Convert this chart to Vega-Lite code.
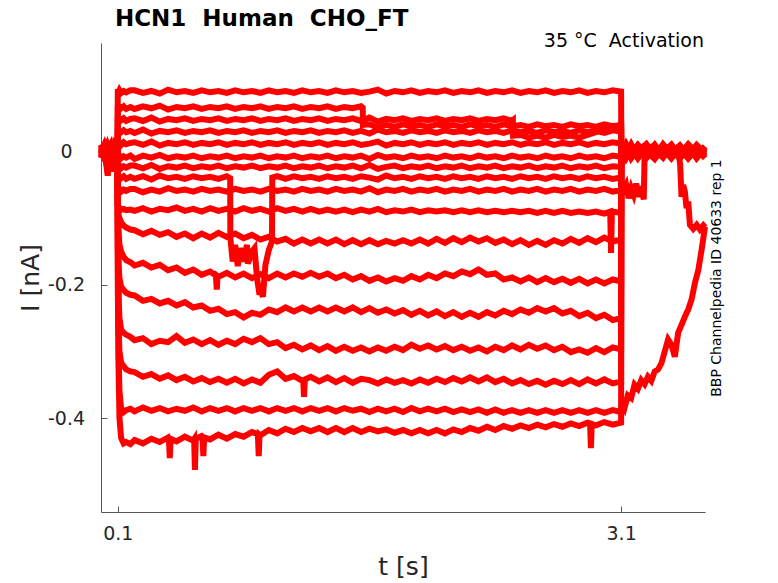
{
  "$schema": "https://vega.github.io/schema/vega-lite/v6.json",
  "width": 604,
  "height": 469,
  "autosize": {"type": "none"},
  "padding": {"left": 101, "top": 43, "right": 73, "bottom": 71},
  "background": "white",
  "data": {
    "values": [
      {"t":0,"a":0.006,"b":-0.004,"c":0.009,"d":-0.008,"e":0.002,"f":0.011,"g":-0.006,"h":0.004,"i":-0.010,"j":0.007,"k":-0.002,"l":0.005,"m":-0.009,"n":0.010,"o":-0.003,"p":0.001,"q":-0.007},
      {"t":0.02,"a":-0.005,"b":0.008,"c":-0.003,"d":0.006,"e":-0.010,"f":0.001,"g":0.009,"h":-0.007,"i":0.004,"j":-0.002,"k":0.010,"l":-0.008,"m":0.003,"n":-0.005,"o":0.007,"p":-0.009,"q":0.002},
      {"t":0.04,"a":0.003,"b":-0.009,"c":0.007,"d":-0.002,"e":0.008,"f":-0.006,"g":0.002,"h":0.010,"i":-0.004,"j":0.005,"k":-0.007,"l":0.001,"m":0.009,"n":-0.003,"o":-0.010,"p":0.006,"q":-0.036},
      {"t":0.06,"a":-0.008,"b":0.002,"c":-0.006,"d":0.010,"e":-0.001,"f":0.007,"g":-0.009,"h":-0.003,"i":0.008,"j":-0.010,"k":0.004,"l":0.009,"m":-0.005,"n":0.002,"o":0.005,"p":-0.030,"q":0.004},
      {"t":0.08,"a":0.009,"b":-0.001,"c":0.004,"d":-0.007,"e":0.005,"f":-0.010,"g":0.006,"h":0.001,"i":-0.006,"j":0.008,"k":-0.004,"l":-0.003,"m":0.006,"n":-0.008,"o":0.002,"p":0.007,"q":-0.005},
      {"t":0.099,"a":-0.002,"b":0.005,"c":-0.008,"d":0.003,"e":-0.006,"f":0.004,"g":-0.003,"h":-0.009,"i":0.006,"j":0.001,"k":0.008,"l":-0.006,"m":-0.002,"n":0.009,"o":-0.007,"p":-0.004,"q":0.007},
      {"t":0.1,"a":0.094,"b":0.069,"c":0.051,"d":0.033,"e":0.015,"f":-0.005,"g":-0.020,"h":-0.036,"i":-0.055,"j":-0.080,"k":-0.070,"l":-0.070,"m":-0.080,"n":-0.100,"o":-0.120,"p":-0.150,"q":-0.200},
      {"t":0.105,"a":0.089,"b":0.064,"c":0.046,"d":0.028,"e":0.011,"f":-0.009,"g":-0.024,"h":-0.041,"i":-0.059,"j":-0.083,"k":-0.095,"l":-0.120,"m":-0.170,"n":-0.220,"o":-0.260,"p":-0.300,"q":-0.330},
      {"t":0.11,"a":0.092,"b":0.067,"c":0.049,"d":0.031,"e":0.013,"f":-0.006,"g":-0.021,"h":-0.038,"i":-0.056,"j":-0.085,"k":-0.100,"l":-0.140,"m":-0.190,"n":-0.250,"o":-0.300,"p":-0.360,"q":-0.400},
      {"t":0.12,"a":0.088,"b":0.065,"c":0.047,"d":0.029,"e":0.010,"f":-0.010,"g":-0.025,"h":-0.040,"i":-0.060,"j":-0.087,"k":-0.106,"l":-0.150,"m":-0.203,"n":-0.267,"o":-0.317,"p":-0.385,"q":-0.430},
      {"t":0.135,"a":0.091,"b":0.068,"c":0.050,"d":0.032,"e":0.014,"f":-0.007,"g":-0.022,"h":-0.037,"i":-0.057,"j":-0.086,"k":-0.111,"l":-0.158,"m":-0.208,"n":-0.272,"o":-0.322,"p":-0.391,"q":-0.438},
      {"t":0.15,"a":0.089,"b":0.064,"c":0.046,"d":0.029,"e":0.011,"f":-0.009,"g":-0.024,"h":-0.041,"i":-0.059,"j":-0.088,"k":-0.114,"l":-0.163,"m":-0.212,"n":-0.275,"o":-0.327,"p":-0.388,"q":-0.436},
      {"t":0.175,"a":0.092,"b":0.067,"c":0.049,"d":0.031,"e":0.013,"f":-0.006,"g":-0.021,"h":-0.038,"i":-0.056,"j":-0.087,"k":-0.117,"l":-0.166,"m":-0.215,"n":-0.278,"o":-0.330,"p":-0.386,"q":-0.439},
      {"t":0.2,"a":0.092,"b":0.064,"c":0.050,"d":0.028,"e":0.014,"f":-0.011,"g":-0.021,"h":-0.041,"i":-0.056,"j":-0.089,"k":-0.118,"l":-0.171,"m":-0.216,"n":-0.283,"o":-0.331,"p":-0.390,"q":-0.433},
      {"t":0.25,"a":0.088,"b":0.068,"c":0.046,"d":0.033,"e":0.010,"f":-0.006,"g":-0.025,"h":-0.037,"i":-0.061,"j":-0.085,"k":-0.124,"l":-0.167,"m":-0.224,"n":-0.280,"o":-0.338,"p":-0.384,"q":-0.438},
      {"t":0.3,"a":0.091,"b":0.065,"c":0.051,"d":0.027,"e":0.015,"f":-0.009,"g":-0.020,"h":-0.042,"i":-0.057,"j":-0.090,"k":-0.119,"l":-0.174,"m":-0.221,"n":-0.289,"o":-0.334,"p":-0.389,"q":-0.431},
      {"t":0.35,"a":0.087,"b":0.069,"c":0.045,"d":0.031,"e":0.009,"f":-0.005,"g":-0.026,"h":-0.036,"i":-0.060,"j":-0.086,"k":-0.125,"l":-0.170,"m":-0.228,"n":-0.284,"o":-0.341,"p":-0.385,"q":-0.436},
      {"t":0.4,"a":0.093,"b":0.063,"c":0.049,"d":0.029,"e":0.013,"f":-0.010,"g":-0.022,"h":-0.040,"i":-0.055,"j":-0.088,"k":-0.121,"l":-0.178,"m":-0.224,"n":-0.286,"o":-0.336,"p":-0.390,"q":-0.429},
      {"t":0.45,"a":0.089,"b":0.067,"c":0.047,"d":0.032,"e":0.011,"f":-0.007,"g":-0.024,"h":-0.038,"i":-0.059,"j":-0.084,"k":-0.128,"l":-0.174,"m":-0.231,"n":-0.277,"o":-0.343,"p":-0.386,"q":-0.435},
      {"t":0.5,"a":0.091,"b":0.065,"c":0.050,"d":0.028,"e":0.014,"f":-0.009,"g":-0.021,"h":-0.041,"i":-0.057,"j":-0.089,"k":-0.123,"l":-0.182,"m":-0.226,"n":-0.287,"o":-0.338,"p":-0.389,"q":-0.428},
      {"t":0.55,"a":0.088,"b":0.068,"c":0.046,"d":0.031,"e":0.010,"f":-0.006,"g":-0.025,"h":-0.037,"i":-0.060,"j":-0.086,"k":-0.130,"l":-0.177,"m":-0.234,"n":-0.282,"o":-0.345,"p":-0.384,"q":-0.434},
      {"t":0.6,"a":0.092,"b":0.064,"c":0.049,"d":0.029,"e":0.013,"f":-0.010,"g":-0.022,"h":-0.040,"i":-0.056,"j":-0.090,"k":-0.123,"l":-0.185,"m":-0.231,"n":-0.289,"o":-0.340,"p":-0.390,"q":-0.427},
      {"t":0.65,"a":0.089,"b":0.067,"c":0.047,"d":0.032,"e":0.011,"f":-0.007,"g":-0.024,"h":-0.038,"i":-0.059,"j":-0.085,"k":-0.129,"l":-0.180,"m":-0.239,"n":-0.283,"o":-0.346,"p":-0.385,"q":-0.432},
      {"t":0.7,"a":0.091,"b":0.065,"c":0.050,"d":0.028,"e":0.014,"f":-0.009,"g":-0.021,"h":-0.041,"i":-0.057,"j":-0.089,"k":-0.122,"l":-0.188,"m":-0.236,"n":-0.290,"o":-0.341,"p":-0.389,"q":-0.425},
      {"t":0.75,"a":0.088,"b":0.068,"c":0.046,"d":0.031,"e":0.010,"f":-0.006,"g":-0.025,"h":-0.037,"i":-0.060,"j":-0.086,"k":-0.128,"l":-0.182,"m":-0.244,"n":-0.284,"o":-0.347,"p":-0.385,"q":-0.431},
      {"t":0.8,"a":0.092,"b":0.064,"c":0.049,"d":0.029,"e":0.013,"f":-0.010,"g":-0.022,"h":-0.140,"i":-0.056,"j":-0.090,"k":-0.123,"l":-0.189,"m":-0.241,"n":-0.289,"o":-0.341,"p":-0.390,"q":-0.424},
      {"t":0.85,"a":0.089,"b":0.067,"c":0.047,"d":0.032,"e":0.011,"f":-0.007,"g":-0.024,"h":-0.165,"i":-0.059,"j":-0.085,"k":-0.130,"l":-0.183,"m":-0.249,"n":-0.281,"o":-0.348,"p":-0.385,"q":-0.428},
      {"t":0.9,"a":0.091,"b":0.065,"c":0.050,"d":0.028,"e":0.014,"f":-0.009,"g":-0.021,"h":-0.150,"i":-0.057,"j":-0.089,"k":-0.125,"l":-0.190,"m":-0.242,"n":-0.286,"o":-0.342,"p":-0.389,"q":-0.421},
      {"t":0.95,"a":0.088,"b":0.068,"c":0.046,"d":0.031,"e":0.010,"f":-0.006,"g":-0.025,"h":-0.205,"i":-0.060,"j":-0.086,"k":-0.132,"l":-0.184,"m":-0.245,"n":-0.280,"o":-0.347,"p":-0.385,"q":-0.426},
      {"t":1.0,"a":0.092,"b":0.064,"c":0.049,"d":0.029,"e":0.013,"f":-0.010,"g":-0.022,"h":-0.148,"i":-0.056,"j":-0.090,"k":-0.128,"l":-0.190,"m":-0.237,"n":-0.289,"o":-0.335,"p":-0.390,"q":-0.418},
      {"t":1.05,"a":0.089,"b":0.067,"c":0.047,"d":0.032,"e":0.011,"f":-0.007,"g":-0.024,"h":-0.037,"i":-0.059,"j":-0.085,"k":-0.135,"l":-0.183,"m":-0.241,"n":-0.286,"o":-0.330,"p":-0.385,"q":-0.423},
      {"t":1.1,"a":0.091,"b":0.065,"c":0.050,"d":0.028,"e":0.014,"f":-0.009,"g":-0.021,"h":-0.041,"i":-0.057,"j":-0.089,"k":-0.131,"l":-0.189,"m":-0.234,"n":-0.295,"o":-0.341,"p":-0.389,"q":-0.416},
      {"t":1.15,"a":0.088,"b":0.068,"c":0.046,"d":0.031,"e":0.010,"f":-0.006,"g":-0.025,"h":-0.037,"i":-0.060,"j":-0.086,"k":-0.138,"l":-0.183,"m":-0.240,"n":-0.290,"o":-0.337,"p":-0.385,"q":-0.421},
      {"t":1.2,"a":0.092,"b":0.064,"c":0.049,"d":0.029,"e":0.013,"f":-0.010,"g":-0.022,"h":-0.040,"i":-0.056,"j":-0.090,"k":-0.132,"l":-0.188,"m":-0.234,"n":-0.297,"o":-0.344,"p":-0.390,"q":-0.415},
      {"t":1.25,"a":0.089,"b":0.067,"c":0.047,"d":0.032,"e":0.011,"f":-0.007,"g":-0.024,"h":-0.038,"i":-0.059,"j":-0.086,"k":-0.138,"l":-0.182,"m":-0.240,"n":-0.291,"o":-0.338,"p":-0.385,"q":-0.420},
      {"t":1.3,"a":0.091,"b":0.065,"c":0.050,"d":0.028,"e":0.014,"f":-0.009,"g":-0.021,"h":-0.041,"i":-0.057,"j":-0.090,"k":-0.132,"l":-0.188,"m":-0.234,"n":-0.298,"o":-0.345,"p":-0.389,"q":-0.415},
      {"t":1.35,"a":0.088,"b":0.068,"c":0.046,"d":0.031,"e":0.010,"f":-0.006,"g":-0.025,"h":-0.037,"i":-0.060,"j":-0.087,"k":-0.138,"l":-0.183,"m":-0.240,"n":-0.292,"o":-0.339,"p":-0.385,"q":-0.421},
      {"t":1.4,"a":0.092,"b":0.064,"c":0.049,"d":0.029,"e":0.013,"f":-0.010,"g":-0.022,"h":-0.040,"i":-0.056,"j":-0.090,"k":-0.132,"l":-0.190,"m":-0.234,"n":-0.299,"o":-0.346,"p":-0.390,"q":-0.415},
      {"t":1.45,"a":0.089,"b":0.067,"c":0.047,"d":0.032,"e":0.011,"f":-0.007,"g":-0.024,"h":-0.038,"i":-0.059,"j":-0.087,"k":-0.139,"l":-0.185,"m":-0.240,"n":-0.293,"o":-0.340,"p":-0.385,"q":-0.421},
      {"t":1.5,"a":0.091,"b":0.065,"c":0.050,"d":0.028,"e":0.014,"f":-0.009,"g":-0.021,"h":-0.041,"i":-0.057,"j":-0.091,"k":-0.133,"l":-0.192,"m":-0.234,"n":-0.299,"o":-0.347,"p":-0.389,"q":-0.415},
      {"t":1.55,"a":0.088,"b":0.068,"c":0.046,"d":0.031,"e":0.010,"f":-0.006,"g":-0.025,"h":-0.037,"i":-0.060,"j":-0.087,"k":-0.139,"l":-0.187,"m":-0.241,"n":-0.294,"o":-0.341,"p":-0.386,"q":-0.421},
      {"t":1.6,"a":0.090,"b":0.041,"c":0.051,"d":0.027,"e":0.012,"f":-0.011,"g":-0.020,"h":-0.039,"i":-0.055,"j":-0.090,"k":-0.133,"l":-0.194,"m":-0.235,"n":-0.300,"o":-0.343,"p":-0.391,"q":-0.416},
      {"t":1.65,"a":0.093,"b":0.036,"c":0.045,"d":0.033,"e":0.015,"f":-0.005,"g":-0.026,"h":-0.042,"i":-0.061,"j":-0.086,"k":-0.139,"l":-0.189,"m":-0.242,"n":-0.294,"o":-0.348,"p":-0.386,"q":-0.420},
      {"t":1.7,"a":0.087,"b":0.040,"c":0.049,"d":0.029,"e":0.009,"f":-0.009,"g":-0.023,"h":-0.036,"i":-0.057,"j":-0.091,"k":-0.134,"l":-0.195,"m":-0.237,"n":-0.299,"o":-0.342,"p":-0.390,"q":-0.417},
      {"t":1.75,"a":0.091,"b":0.037,"c":0.047,"d":0.031,"e":0.013,"f":-0.007,"g":-0.021,"h":-0.040,"i":-0.059,"j":-0.088,"k":-0.138,"l":-0.190,"m":-0.243,"n":-0.293,"o":-0.347,"p":-0.386,"q":-0.422},
      {"t":1.8,"a":0.089,"b":0.041,"c":0.050,"d":0.028,"e":0.011,"f":-0.010,"g":-0.025,"h":-0.038,"i":-0.056,"j":-0.090,"k":-0.133,"l":-0.194,"m":-0.238,"n":-0.298,"o":-0.343,"p":-0.391,"q":-0.418},
      {"t":1.85,"a":0.092,"b":0.038,"c":0.046,"d":0.032,"e":0.014,"f":-0.006,"g":-0.022,"h":-0.041,"i":-0.060,"j":-0.087,"k":-0.138,"l":-0.187,"m":-0.245,"n":-0.290,"o":-0.348,"p":-0.385,"q":-0.423},
      {"t":1.9,"a":0.088,"b":0.040,"c":0.049,"d":0.029,"e":0.010,"f":-0.009,"g":-0.024,"h":-0.037,"i":-0.057,"j":-0.091,"k":-0.132,"l":-0.192,"m":-0.239,"n":-0.296,"o":-0.342,"p":-0.390,"q":-0.418},
      {"t":1.95,"a":0.091,"b":0.037,"c":0.047,"d":0.031,"e":0.013,"f":-0.007,"g":-0.021,"h":-0.040,"i":-0.059,"j":-0.088,"k":-0.138,"l":-0.185,"m":-0.246,"n":-0.291,"o":-0.347,"p":-0.386,"q":-0.423},
      {"t":2.0,"a":0.089,"b":0.041,"c":0.050,"d":0.028,"e":0.011,"f":-0.010,"g":-0.025,"h":-0.038,"i":-0.056,"j":-0.090,"k":-0.131,"l":-0.190,"m":-0.240,"n":-0.297,"o":-0.341,"p":-0.390,"q":-0.418},
      {"t":2.05,"a":0.092,"b":0.038,"c":0.046,"d":0.032,"e":0.014,"f":-0.006,"g":-0.022,"h":-0.041,"i":-0.060,"j":-0.088,"k":-0.137,"l":-0.183,"m":-0.247,"n":-0.292,"o":-0.346,"p":-0.386,"q":-0.423},
      {"t":2.1,"a":0.088,"b":0.040,"c":0.049,"d":0.029,"e":0.010,"f":-0.009,"g":-0.024,"h":-0.037,"i":-0.057,"j":-0.091,"k":-0.130,"l":-0.187,"m":-0.241,"n":-0.298,"o":-0.340,"p":-0.391,"q":-0.417},
      {"t":2.15,"a":0.091,"b":0.037,"c":0.047,"d":0.031,"e":0.013,"f":-0.007,"g":-0.021,"h":-0.040,"i":-0.059,"j":-0.088,"k":-0.136,"l":-0.180,"m":-0.248,"n":-0.293,"o":-0.345,"p":-0.387,"q":-0.421},
      {"t":2.2,"a":0.089,"b":0.041,"c":0.050,"d":0.028,"e":0.011,"f":-0.010,"g":-0.025,"h":-0.038,"i":-0.056,"j":-0.091,"k":-0.129,"l":-0.184,"m":-0.242,"n":-0.299,"o":-0.339,"p":-0.391,"q":-0.415},
      {"t":2.25,"a":0.092,"b":0.038,"c":0.046,"d":0.032,"e":0.014,"f":-0.006,"g":-0.022,"h":-0.041,"i":-0.060,"j":-0.088,"k":-0.135,"l":-0.177,"m":-0.248,"n":-0.294,"o":-0.345,"p":-0.387,"q":-0.419},
      {"t":2.3,"a":0.088,"b":0.040,"c":0.049,"d":0.029,"e":0.010,"f":-0.009,"g":-0.024,"h":-0.037,"i":-0.057,"j":-0.091,"k":-0.130,"l":-0.185,"m":-0.241,"n":-0.300,"o":-0.339,"p":-0.392,"q":-0.413},
      {"t":2.35,"a":0.091,"b":0.037,"c":0.047,"d":0.031,"e":0.013,"f":-0.007,"g":-0.021,"h":-0.040,"i":-0.059,"j":-0.089,"k":-0.137,"l":-0.183,"m":-0.246,"n":-0.293,"o":-0.346,"p":-0.387,"q":-0.418},
      {"t":2.4,"a":0.089,"b":0.041,"c":0.050,"d":0.028,"e":0.011,"f":-0.010,"g":-0.025,"h":-0.038,"i":-0.056,"j":-0.091,"k":-0.132,"l":-0.192,"m":-0.239,"n":-0.298,"o":-0.341,"p":-0.392,"q":-0.412},
      {"t":2.45,"a":0.092,"b":0.038,"c":0.046,"d":0.032,"e":0.014,"f":-0.006,"g":-0.022,"h":-0.041,"i":-0.060,"j":-0.089,"k":-0.139,"l":-0.189,"m":-0.244,"n":-0.291,"o":-0.348,"p":-0.388,"q":-0.416},
      {"t":2.5,"a":0.088,"b":0.040,"c":0.025,"d":0.029,"e":0.010,"f":-0.009,"g":-0.024,"h":-0.037,"i":-0.057,"j":-0.091,"k":-0.133,"l":-0.195,"m":-0.237,"n":-0.297,"o":-0.343,"p":-0.392,"q":-0.411},
      {"t":2.55,"a":0.091,"b":0.037,"c":0.021,"d":0.031,"e":0.013,"f":-0.007,"g":-0.021,"h":-0.040,"i":-0.059,"j":-0.089,"k":-0.140,"l":-0.189,"m":-0.242,"n":-0.290,"o":-0.349,"p":-0.388,"q":-0.415},
      {"t":2.6,"a":0.089,"b":0.041,"c":0.024,"d":0.028,"e":0.011,"f":-0.010,"g":-0.025,"h":-0.038,"i":-0.056,"j":-0.092,"k":-0.134,"l":-0.196,"m":-0.235,"n":-0.296,"o":-0.344,"p":-0.392,"q":-0.410},
      {"t":2.65,"a":0.092,"b":0.038,"c":0.021,"d":0.032,"e":0.014,"f":-0.006,"g":-0.022,"h":-0.041,"i":-0.060,"j":-0.089,"k":-0.140,"l":-0.190,"m":-0.240,"n":-0.291,"o":-0.350,"p":-0.388,"q":-0.414},
      {"t":2.7,"a":0.088,"b":0.040,"c":0.025,"d":0.029,"e":0.010,"f":-0.009,"g":-0.024,"h":-0.037,"i":-0.057,"j":-0.092,"k":-0.133,"l":-0.196,"m":-0.235,"n":-0.298,"o":-0.344,"p":-0.392,"q":-0.409},
      {"t":2.75,"a":0.091,"b":0.037,"c":0.022,"d":0.031,"e":0.013,"f":-0.007,"g":-0.021,"h":-0.040,"i":-0.059,"j":-0.089,"k":-0.138,"l":-0.191,"m":-0.243,"n":-0.293,"o":-0.349,"p":-0.388,"q":-0.413},
      {"t":2.8,"a":0.089,"b":0.041,"c":0.024,"d":0.028,"e":0.011,"f":-0.010,"g":-0.025,"h":-0.038,"i":-0.056,"j":-0.092,"k":-0.131,"l":-0.197,"m":-0.239,"n":-0.301,"o":-0.343,"p":-0.392,"q":-0.408},
      {"t":2.85,"a":0.092,"b":0.038,"c":0.021,"d":0.032,"e":0.014,"f":-0.006,"g":-0.022,"h":-0.041,"i":-0.060,"j":-0.090,"k":-0.137,"l":-0.191,"m":-0.247,"n":-0.297,"o":-0.349,"p":-0.388,"q":-0.412},
      {"t":2.9,"a":0.088,"b":0.040,"c":0.025,"d":0.029,"e":0.010,"f":-0.009,"g":-0.024,"h":-0.037,"i":-0.057,"j":-0.092,"k":-0.130,"l":-0.198,"m":-0.242,"n":-0.302,"o":-0.342,"p":-0.392,"q":-0.407},
      {"t":2.95,"a":0.091,"b":0.037,"c":0.029,"d":0.031,"e":0.013,"f":-0.007,"g":-0.021,"h":-0.040,"i":-0.059,"j":-0.090,"k":-0.136,"l":-0.192,"m":-0.250,"n":-0.295,"o":-0.348,"p":-0.388,"q":-0.411},
      {"t":3.0,"a":0.089,"b":0.041,"c":0.034,"d":0.028,"e":0.011,"f":-0.010,"g":-0.025,"h":-0.038,"i":-0.056,"j":-0.093,"k":-0.129,"l":-0.198,"m":-0.245,"n":-0.301,"o":-0.342,"p":-0.392,"q":-0.406},
      {"t":3.05,"a":0.092,"b":0.038,"c":0.037,"d":0.032,"e":0.014,"f":-0.006,"g":-0.022,"h":-0.041,"i":-0.060,"j":-0.090,"k":-0.135,"l":-0.192,"m":-0.253,"n":-0.294,"o":-0.348,"p":-0.388,"q":-0.410},
      {"t":3.1,"a":0.090,"b":0.040,"c":0.040,"d":0.030,"e":0.012,"f":-0.008,"g":-0.023,"h":-0.039,"i":-0.058,"j":-0.092,"k":-0.132,"l":-0.195,"m":-0.250,"n":-0.297,"o":-0.345,"p":-0.391,"q":-0.407},
      {"t":1.56,"b":0.066},
      {"t":1.561,"b":0.040},
      {"t":2.455,"c":0.047},
      {"t":2.456,"c":0.024},
      {"t":0.77,"h":-0.040},
      {"t":0.771,"h":-0.130},
      {"t":0.785,"h":-0.165},
      {"t":0.815,"h":-0.172},
      {"t":0.83,"h":-0.145},
      {"t":0.87,"h":-0.140},
      {"t":0.875,"h":-0.168},
      {"t":0.915,"h":-0.145},
      {"t":0.93,"h":-0.190},
      {"t":0.945,"h":-0.215},
      {"t":0.965,"h":-0.218},
      {"t":0.98,"h":-0.170},
      {"t":1.019,"h":-0.135},
      {"t":1.021,"h":-0.039},
      {"t":0.405,"q":-0.432},
      {"t":0.41,"q":-0.460},
      {"t":0.415,"q":-0.431},
      {"t":0.555,"q":-0.432},
      {"t":0.56,"q":-0.478},
      {"t":0.565,"q":-0.431},
      {"t":0.605,"q":-0.428},
      {"t":0.61,"q":-0.457},
      {"t":0.615,"q":-0.429},
      {"t":0.935,"q":-0.424},
      {"t":0.94,"q":-0.457},
      {"t":0.945,"q":-0.425},
      {"t":2.915,"q":-0.408},
      {"t":2.92,"q":-0.445},
      {"t":2.925,"q":-0.409},
      {"t":1.205,"o":-0.341},
      {"t":1.21,"o":-0.368},
      {"t":1.215,"o":-0.342},
      {"t":0.685,"l":-0.186},
      {"t":0.69,"l":-0.207},
      {"t":0.695,"l":-0.187},
      {"t":3.035,"j":-0.090},
      {"t":3.04,"j":-0.152},
      {"t":3.045,"j":-0.091},
      {"t":3.101,"a":0.010,"b":-0.004,"c":0.006,"d":-0.009,"e":0.002,"f":0.012,"g":-0.007,"h":0.004,"j":-0.011,"k":0.008,"l":-0.002,"m":0.005,"n":-0.010,"o":0.009,"q":-0.005},
      {"t":3.13,"a":-0.006,"b":0.009,"c":-0.010,"d":0.004,"e":-0.008,"f":-0.001,"g":0.011,"h":-0.006,"j":0.003,"k":-0.009,"l":0.010,"m":-0.004,"n":0.006,"o":-0.007,"q":0.008},
      {"t":3.16,"a":0.008,"b":-0.007,"c":0.003,"d":0.010,"e":0.005,"f":-0.009,"g":-0.002,"h":0.009,"j":-0.006,"k":0.002,"l":-0.008,"m":0.011,"n":-0.003,"o":0.004,"q":-0.010},
      {"t":3.2,"a":-0.009,"b":0.002,"c":0.009,"d":-0.005,"e":-0.010,"f":0.006,"g":0.008,"h":-0.003,"j":0.010,"k":-0.006,"l":0.004,"m":-0.008,"n":0.009,"o":-0.001,"q":0.003},
      {"t":3.25,"a":0.004,"b":0.011,"c":-0.006,"d":0.001,"e":0.007,"f":-0.004,"g":-0.010,"h":0.007,"j":-0.002,"k":0.010,"l":-0.007,"m":0.002,"n":-0.008,"o":0.011,"q":-0.006},
      {"t":3.3,"a":-0.003,"b":-0.009,"c":0.008,"d":-0.011,"e":0.003,"f":0.010,"g":0.004,"h":-0.008,"j":0.006,"k":-0.003,"l":0.009,"m":-0.010,"n":0.005,"o":-0.005,"q":0.010},
      {"t":3.35,"a":0.009,"b":0.005,"c":-0.002,"d":0.007,"e":-0.009,"f":-0.006,"g":0.001,"h":0.011,"j":-0.008,"k":0.006,"l":-0.004,"m":0.008,"n":-0.001,"o":0.002,"q":-0.008},
      {"t":3.4,"a":-0.007,"b":-0.003,"c":0.010,"d":-0.002,"e":0.009,"f":0.003,"g":-0.009,"h":-0.004,"j":0.004,"k":-0.010,"l":0.006,"m":-0.002,"n":0.010,"o":-0.009,"q":0.001},
      {"t":3.45,"a":0.006,"b":0.008,"c":-0.008,"d":0.009,"e":-0.004,"f":-0.010,"g":0.006,"h":0.002,"j":-0.005,"k":0.004,"l":-0.010,"m":0.009,"n":-0.006,"o":0.007,"q":-0.004},
      {"t":3.5,"a":-0.010,"b":-0.006,"c":0.004,"d":-0.007,"e":0.011,"f":0.007,"g":-0.003,"h":-0.009,"j":0.009,"k":-0.001,"l":0.003,"m":-0.006,"n":0.002,"o":-0.010,"q":0.009},
      {"t":3.55,"a":0.003,"b":0.010,"c":-0.009,"d":0.005,"e":-0.002,"f":-0.008,"g":0.009,"h":0.006,"j":-0.010,"k":0.007,"l":-0.005,"m":0.004,"n":-0.009,"o":0.005,"q":-0.007},
      {"t":3.6,"a":-0.004,"b":-0.002,"c":0.007,"d":-0.010,"e":0.006,"f":0.002,"g":-0.006,"h":-0.002,"j":0.005,"k":-0.008,"l":0.008,"m":-0.003,"n":0.007,"o":-0.003,"q":0.004},
      {"t":3.101,"i":-0.045,"p":-0.392},
      {"t":3.11,"p":-0.380},
      {"t":3.115,"i":-0.058},
      {"t":3.12,"p":-0.385},
      {"t":3.13,"i":-0.050},
      {"t":3.14,"p":-0.366},
      {"t":3.145,"i":-0.070},
      {"t":3.16,"i":-0.055,"p":-0.370},
      {"t":3.175,"i":-0.065},
      {"t":3.18,"p":-0.350},
      {"t":3.19,"i":-0.048},
      {"t":3.2,"p":-0.356},
      {"t":3.205,"i":-0.068},
      {"t":3.22,"i":-0.052,"p":-0.343},
      {"t":3.235,"i":-0.072},
      {"t":3.24,"i":-0.004,"p":-0.349},
      {"t":3.26,"p":-0.338},
      {"t":3.28,"i":0.006,"p":-0.344},
      {"t":3.3,"p":-0.330},
      {"t":3.32,"i":-0.005,"p":-0.327},
      {"t":3.34,"p":-0.318},
      {"t":3.36,"i":0.007,"p":-0.300},
      {"t":3.38,"p":-0.282},
      {"t":3.4,"i":-0.003,"p":-0.290},
      {"t":3.42,"p":-0.308},
      {"t":3.44,"i":0.004,"p":-0.272},
      {"t":3.452,"i":-0.020},
      {"t":3.46,"i":-0.068,"p":-0.260},
      {"t":3.47,"i":-0.050},
      {"t":3.48,"i":-0.060,"p":-0.248},
      {"t":3.49,"i":-0.085},
      {"t":3.5,"i":-0.075,"p":-0.237},
      {"t":3.51,"i":-0.110},
      {"t":3.52,"p":-0.222},
      {"t":3.53,"i":-0.116},
      {"t":3.54,"p":-0.197},
      {"t":3.55,"i":-0.110},
      {"t":3.56,"p":-0.178},
      {"t":3.57,"i":-0.117},
      {"t":3.58,"p":-0.147},
      {"t":3.59,"i":-0.111,"p":-0.130},
      {"t":3.6,"i":-0.114,"p":-0.113}
    ]
  },
  "layer": [
    {
      "transform": [
        {"fold": ["a","b","c","d","e","f","g","h","i","j","k","l","m","n","o","p","q"], "as": ["trace","v"]},
        {"filter": "isValid(datum.v)"}
      ],
      "mark": {"type": "line", "color": "#ff0000", "strokeWidth": 6},
      "encoding": {
        "x": {
          "field": "t",
          "type": "quantitative",
          "scale": {"domain": [0, 3.6], "nice": false, "zero": false},
          "axis": {
            "values": [0.1, 3.1],
            "format": ".1f",
            "title": "t [s]",
            "tickSize": -6,
            "labelPadding": 18,
            "titlePadding": 11,
            "labelFlush": false
          }
        },
        "y": {
          "field": "v",
          "type": "quantitative",
          "scale": {"domain": [-0.541, 0.163], "nice": false, "zero": false},
          "axis": {
            "orient": "left",
            "values": [-0.4, -0.2, 0],
            "labelExpr": "datum.value < 0 ? '-' + format(-datum.value, '.1f') : '0'",
            "labelAlign": "center",
            "title": "I [nA]",
            "tickSize": -6,
            "labelPadding": 41,
            "titlePadding": 4
          }
        },
        "detail": {"field": "trace"}
      }
    },
    {
      "data": {"values": [{}]},
      "mark": {
        "type": "text",
        "text": "35\u00a0°C\u00a0\u00a0Activation",
        "align": "right",
        "baseline": "alphabetic",
        "font": "DejaVu Sans",
        "fontSize": 19,
        "color": "#000000"
      },
      "encoding": {
        "x": {"datum": 3.594, "type": "quantitative"},
        "y": {
          "datum": 0.1577,
          "type": "quantitative",
          "axis": {
            "orient": "right",
            "title": "BBP Channelpedia ID 40633 rep 1",
            "titleAngle": 270,
            "titleFontSize": 14,
            "titleColor": "#000000",
            "titlePadding": 18,
            "ticks": false,
            "labels": false,
            "domain": false,
            "grid": false
          }
        }
      }
    },
    {
      "data": {"values": [{}]},
      "mark": {
        "type": "text",
        "text": "HCN1\u00a0\u00a0Human\u00a0\u00a0CHO_FT",
        "align": "left",
        "baseline": "alphabetic",
        "font": "DejaVu Sans",
        "fontSize": 23,
        "fontWeight": "bold",
        "color": "#000000"
      },
      "encoding": {
        "x": {"datum": 0.083, "type": "quantitative"},
        "y": {"datum": 0.1885, "type": "quantitative", "axis": null}
      }
    }
  ],
  "resolve": {"axis": {"y": "independent"}},
  "config": {
    "view": {"stroke": null},
    "axis": {
      "grid": false,
      "domainColor": "#555555",
      "tickColor": "#555555",
      "labelFont": "DejaVu Sans",
      "titleFont": "DejaVu Sans",
      "labelFontSize": 19,
      "titleFontSize": 25,
      "titleFontWeight": "normal",
      "labelColor": "#262626",
      "titleColor": "#262626"
    }
  }
}
